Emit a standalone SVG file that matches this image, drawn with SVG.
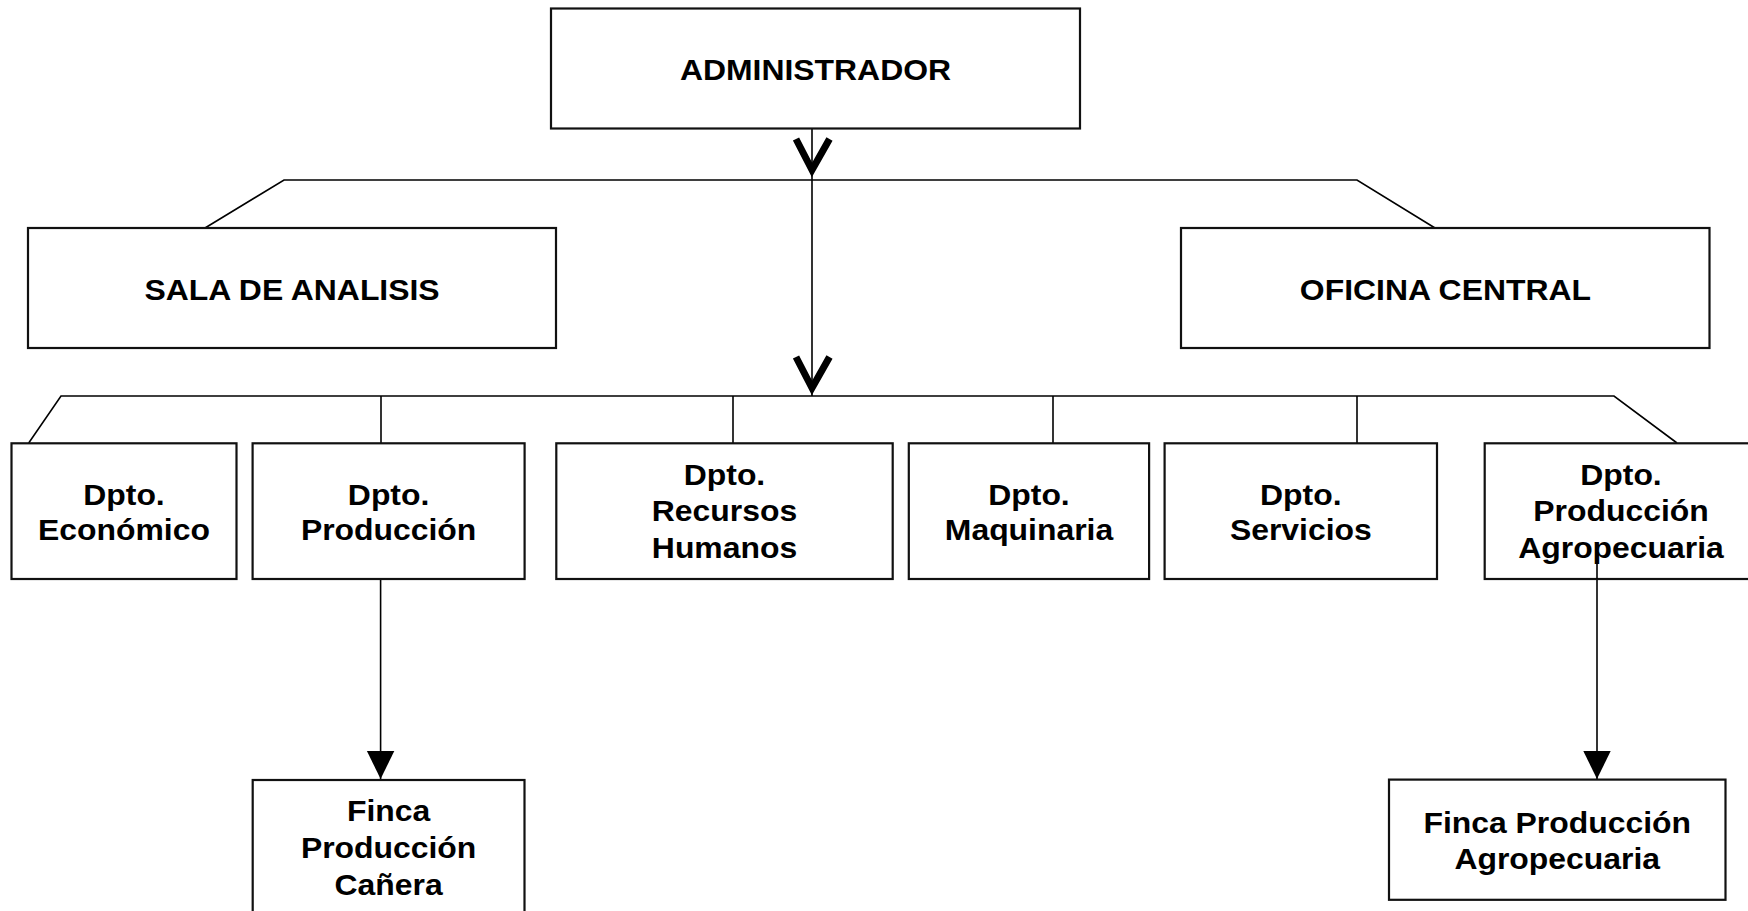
<svg xmlns="http://www.w3.org/2000/svg" width="1748" height="911" viewBox="0 0 1748 911">
<style>
.box{fill:#fff;stroke:#111;stroke-width:2.2}
.ln{fill:none;stroke:#000;stroke-width:1.6}
.v{fill:none;stroke:#000;stroke-width:7;stroke-linejoin:miter;stroke-miterlimit:10}
.t{font-family:"Liberation Sans",Arial,sans-serif;font-weight:bold;font-size:29px;fill:#000;text-anchor:middle}
</style>
<defs>
<marker id="tri" markerUnits="userSpaceOnUse" viewBox="-30 -15 32 30" refX="0" refY="0" markerWidth="32" markerHeight="30" orient="auto" overflow="visible">
<path d="M-28,-13.7 L0,0 L-28,13.7 Z" fill="#000"/>
</marker>
</defs>
<rect width="1748" height="911" fill="#fff"/>
<g id="connectors">
<line class="ln" x1="812" y1="128.5" x2="812" y2="396"/>
<polyline class="v" points="796,139 812,170 829.5,139"/>
<polyline class="v" points="796,357 812,388 829.5,357"/>
<polyline class="ln" points="205,228 284,180 1357,180 1435,228"/>
<polyline class="ln" points="28.7,443 61,396 1614,396 1677,443"/>
<line class="ln" x1="381" y1="396" x2="381" y2="443"/>
<line class="ln" x1="733" y1="396" x2="733" y2="443"/>
<line class="ln" x1="1053" y1="396" x2="1053" y2="443"/>
<line class="ln" x1="1357" y1="396" x2="1357" y2="443"/>
<path class="ln" d="M380.6,564 L380.6,779" marker-end="url(#tri)"/>
<path class="ln" d="M1597,563 L1597,779" marker-end="url(#tri)"/>
</g>
<g id="n-admin">
<rect class="box" x="551" y="8.5" width="529" height="120"/>
<text class="t" transform="translate(815.5 0) scale(1.1 1)" x="0" y="80">ADMINISTRADOR</text>
</g>
<g id="n-sala">
<rect class="box" x="28" y="228" width="528" height="120"/>
<text class="t" transform="translate(292 0) scale(1.1 1)" x="0" y="300">SALA DE ANALISIS</text>
</g>
<g id="n-oficina">
<rect class="box" x="1181" y="228" width="528.5" height="120"/>
<text class="t" transform="translate(1445.4 0) scale(1.1 1)" x="0" y="300">OFICINA CENTRAL</text>
</g>
<g id="n-economico">
<rect class="box" x="11.5" y="443.3" width="225" height="135.7"/>
<text class="t" transform="translate(124 0) scale(1.1 1)"><tspan x="0" y="504.6">Dpto.</tspan><tspan x="0" y="540.5">Económico</tspan></text>
</g>
<g id="n-produccion">
<rect class="box" x="252.6" y="443.3" width="272" height="135.7"/>
<text class="t" transform="translate(388.6 0) scale(1.1 1)"><tspan x="0" y="504.6">Dpto.</tspan><tspan x="0" y="540.5">Producción</tspan></text>
</g>
<g id="n-rrhh">
<rect class="box" x="556.3" y="443.3" width="336.4" height="135.7"/>
<text class="t" transform="translate(724.5 0) scale(1.1 1)"><tspan x="0" y="485">Dpto.</tspan><tspan x="0" y="521.5">Recursos</tspan><tspan x="0" y="558.3">Humanos</tspan></text>
</g>
<g id="n-maquinaria">
<rect class="box" x="908.8" y="443.3" width="240.3" height="135.7"/>
<text class="t" transform="translate(1029 0) scale(1.1 1)"><tspan x="0" y="504.6">Dpto.</tspan><tspan x="0" y="540.5">Maquinaria</tspan></text>
</g>
<g id="n-servicios">
<rect class="box" x="1164.6" y="443.3" width="272.4" height="135.7"/>
<text class="t" transform="translate(1300.8 0) scale(1.1 1)"><tspan x="0" y="504.6">Dpto.</tspan><tspan x="0" y="540.5">Servicios</tspan></text>
</g>
<g id="n-agro">
<rect class="box" x="1484.7" y="443.3" width="272.3" height="135.7"/>
<text class="t" transform="translate(1621 0) scale(1.1 1)"><tspan x="0" y="485">Dpto.</tspan><tspan x="0" y="521.5">Producción</tspan><tspan x="0" y="558.3">Agropecuaria</tspan></text>
</g>
<g id="n-finca-canera">
<rect class="box" x="252.7" y="780" width="271.8" height="140"/>
<text class="t" transform="translate(388.6 0) scale(1.1 1)"><tspan x="0" y="821.5">Finca</tspan><tspan x="0" y="858.3">Producción</tspan><tspan x="0" y="895">Cañera</tspan></text>
</g>
<g id="n-finca-agro">
<rect class="box" x="1389" y="779.6" width="336.5" height="120.2"/>
<text class="t" transform="translate(1557.2 0) scale(1.1 1)"><tspan x="0" y="832.8">Finca Producción</tspan><tspan x="0" y="869.3">Agropecuaria</tspan></text>
</g>
<g id="connector-overlay">
<line class="ln" x1="1597" y1="563" x2="1597" y2="579"/>
</g>
</svg>
